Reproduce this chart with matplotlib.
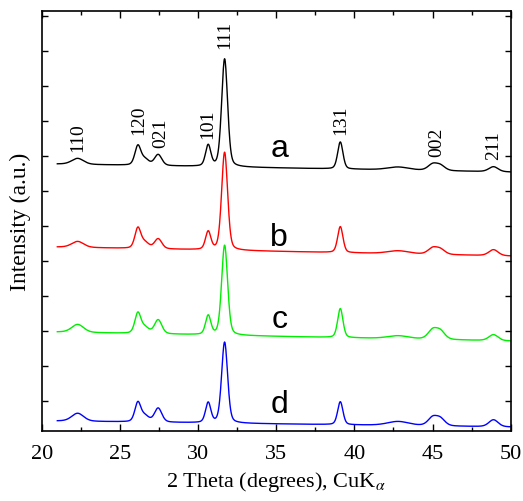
import numpy as np
import matplotlib
matplotlib.use("Agg")
import matplotlib.pyplot as plt
from matplotlib.ticker import MultipleLocator, FixedLocator

plt.rcParams["font.family"] = ["Liberation Serif", "DejaVu Serif"]
plt.rcParams["mathtext.fontset"] = "stix"

# peak positions (2theta, deg) and widths (FWHM, deg)
peak_pos = [22.3, 26.15, 26.6, 27.45, 30.65, 31.7, 39.1, 42.8, 45.0, 45.5, 48.9]
peak_fwhm = [0.9, 0.45, 0.6, 0.55, 0.4, 0.45, 0.4, 1.6, 0.7, 0.7, 0.7]

# peak heights above baseline for each sample (arbitrary units)
heights = {
    "a": [6, 19, 6, 11, 21, 108, 27, 3, 6, 5, 5],
    "b": [6, 20, 6, 10, 18, 98, 26, 3, 6, 5, 6],
    "c": [8, 20, 6, 14, 19, 90, 29, 3, 9, 8, 6],
    "d": [8, 19, 6, 14, 20, 81, 23, 4, 8, 7, 7],
}
# baseline level at 21 deg and at 50 deg (offset stacking)
base_start = {"a": 267, "b": 184, "c": 99, "d": 10}
base_end = {"a": 259, "b": 175, "c": 90, "d": 4}
colors = {"a": "black", "b": "#ff0000", "c": "#00ee00", "d": "#0000ff"}

# sample label positions
letter_x = 35.2
letter_y = {"a": 275, "b": 186, "c": 104, "d": 19}

# Miller index labels: text, x, y (bottom)
hkl_text = ["110", "120", "021", "101", "111", "131", "002", "211"]
hkl_x = [22.3, 26.2, 27.6, 30.6, 31.7, 39.1, 45.3, 48.9]
hkl_y = [280, 297, 284, 293, 383, 297, 275, 272]

two_theta = np.arange(21.0, 50.0, 0.02)


def profile(x, pos, fwhm, h):
    y = np.zeros_like(x)
    for p, w, a in zip(pos, fwhm, h):
        g = np.exp(-4 * np.log(2) * ((x - p) / w) ** 2)
        l = 1 / (1 + 4 * ((x - p) / w) ** 2)
        y += a * (0.7 * g + 0.3 * l)
    return y


fig = plt.figure(figsize=(5.23, 5.02), dpi=100)
ax = fig.add_axes([0.0797, 0.1394, 0.8968, 0.8376])

for s in ["a", "b", "c", "d"]:
    base = np.interp(two_theta, [21, 50], [base_start[s], base_end[s]])
    y = base + profile(two_theta, peak_pos, peak_fwhm, heights[s])
    ax.plot(two_theta, y, color=colors[s], lw=1.0)
    ax.text(letter_x, letter_y[s], s, family=["Liberation Sans", "DejaVu Sans"],
            fontsize=23, ha="center", va="baseline")

for t, x, y in zip(hkl_text, hkl_x, hkl_y):
    ax.text(x, y, t, rotation=90, fontsize=14, ha="center", va="bottom")

ax.set_xlim(20, 50)
ax.set_ylim(0, 420.5)
ax.xaxis.set_major_locator(MultipleLocator(5))
ax.xaxis.set_minor_locator(MultipleLocator(2.5))
ax.yaxis.set_major_locator(FixedLocator(np.arange(30, 420, 35)))
ax.set_yticklabels([])
ax.tick_params(axis="x", which="major", direction="in", length=5, width=1,
               labelsize=16, top=True, pad=9)
ax.tick_params(axis="x", which="minor", direction="in", length=3, width=1, top=True)
ax.tick_params(axis="y", which="major", direction="in", length=4, width=1, right=True)
for sp in ax.spines.values():
    sp.set_linewidth(1.2)

ax.set_xlabel(r"2 Theta (degrees), CuK$_\alpha$", fontsize=16, labelpad=5)
ax.set_ylabel("Intensity (a.u.)", fontsize=17, labelpad=4)

fig.savefig("out.png", dpi=100)
